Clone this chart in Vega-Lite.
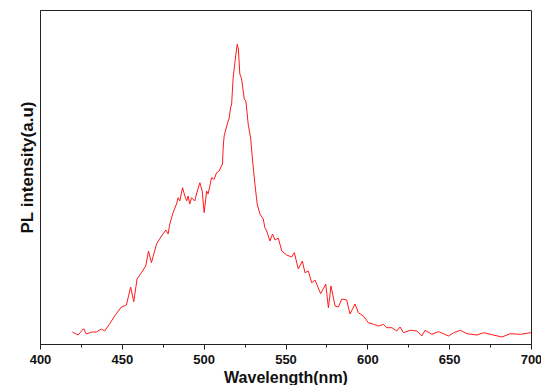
{
  "$schema": "https://vega.github.io/schema/vega-lite/v6.json",
  "width": 491,
  "height": 334,
  "autosize": {"type": "none"},
  "padding": {"left": 40, "top": 10, "right": 10, "bottom": 41},
  "background": "white",
  "config": {
    "view": {"stroke": "#222222", "strokeWidth": 1},
    "font": "Liberation Sans"
  },
  "data": {
    "values": [
      {"wl": 419.8, "v": 12}, {"wl": 423.2, "v": 9}, {"wl": 426.7, "v": 15.3}, {"wl": 428.3, "v": 10},
      {"wl": 431.4, "v": 12}, {"wl": 434.4, "v": 12}, {"wl": 437.5, "v": 15}, {"wl": 439.5, "v": 13},
      {"wl": 442.6, "v": 20.3}, {"wl": 445.6, "v": 28}, {"wl": 449.7, "v": 37}, {"wl": 452.8, "v": 39},
      {"wl": 455.4, "v": 57}, {"wl": 457.3, "v": 42.3}, {"wl": 459.3, "v": 65}, {"wl": 462.0, "v": 71.3},
      {"wl": 464.6, "v": 78}, {"wl": 466.3, "v": 93}, {"wl": 468.1, "v": 81.3}, {"wl": 471.2, "v": 100},
      {"wl": 474.2, "v": 108}, {"wl": 476.9, "v": 114}, {"wl": 478.3, "v": 110}, {"wl": 479.3, "v": 120},
      {"wl": 481.3, "v": 131.3}, {"wl": 483.4, "v": 140}, {"wl": 484.4, "v": 146.3}, {"wl": 485.4, "v": 143},
      {"wl": 487.1, "v": 156.3}, {"wl": 488.5, "v": 148}, {"wl": 489.6, "v": 143}, {"wl": 490.5, "v": 148},
      {"wl": 491.5, "v": 140}, {"wl": 492.6, "v": 146.3}, {"wl": 494.6, "v": 143}, {"wl": 495.6, "v": 150},
      {"wl": 497.7, "v": 161.3}, {"wl": 499.1, "v": 153}, {"wl": 500.3, "v": 131.3}, {"wl": 501.8, "v": 153},
      {"wl": 502.7, "v": 150}, {"wl": 503.8, "v": 158}, {"wl": 504.8, "v": 166.3}, {"wl": 506.4, "v": 164.7},
      {"wl": 507.9, "v": 171.3}, {"wl": 509.5, "v": 173}, {"wl": 510.3, "v": 176}, {"wl": 511.5, "v": 180},
      {"wl": 511.9, "v": 196}, {"wl": 512.5, "v": 208}, {"wl": 513.6, "v": 215}, {"wl": 514.4, "v": 220},
      {"wl": 515.0, "v": 223}, {"wl": 515.6, "v": 226}, {"wl": 516.4, "v": 236}, {"wl": 517.1, "v": 240},
      {"wl": 518.0, "v": 266}, {"wl": 519.7, "v": 290}, {"wl": 520.5, "v": 299.7}, {"wl": 521.2, "v": 295},
      {"wl": 522.1, "v": 270}, {"wl": 523.2, "v": 265}, {"wl": 524.8, "v": 245}, {"wl": 525.8, "v": 243},
      {"wl": 527.2, "v": 220}, {"wl": 528.7, "v": 206}, {"wl": 529.9, "v": 183}, {"wl": 531.3, "v": 160},
      {"wl": 532.7, "v": 140}, {"wl": 534.4, "v": 130}, {"wl": 536.4, "v": 125}, {"wl": 537.4, "v": 116.3},
      {"wl": 538.5, "v": 113}, {"wl": 540.5, "v": 103}, {"wl": 542.1, "v": 110}, {"wl": 543.6, "v": 104},
      {"wl": 545.6, "v": 106}, {"wl": 547.7, "v": 93}, {"wl": 550.7, "v": 89}, {"wl": 553.8, "v": 87},
      {"wl": 555.4, "v": 91.3}, {"wl": 557.8, "v": 75}, {"wl": 560.3, "v": 83}, {"wl": 561.9, "v": 71.3},
      {"wl": 563.9, "v": 73}, {"wl": 566.0, "v": 61.3}, {"wl": 568.0, "v": 64}, {"wl": 571.5, "v": 50.3},
      {"wl": 574.6, "v": 60}, {"wl": 576.2, "v": 36.3}, {"wl": 577.8, "v": 58}, {"wl": 580.3, "v": 38},
      {"wl": 582.3, "v": 37}, {"wl": 584.4, "v": 45}, {"wl": 587.4, "v": 44}, {"wl": 589.4, "v": 30},
      {"wl": 592.5, "v": 40}, {"wl": 594.5, "v": 31.3}, {"wl": 597.6, "v": 28}, {"wl": 600.6, "v": 21.3},
      {"wl": 603.7, "v": 19.7}, {"wl": 606.8, "v": 18}, {"wl": 609.8, "v": 19.7}, {"wl": 611.9, "v": 16.3},
      {"wl": 615.0, "v": 16.3}, {"wl": 618.0, "v": 13}, {"wl": 620.0, "v": 17}, {"wl": 622.1, "v": 11.3},
      {"wl": 626.2, "v": 13.7}, {"wl": 630.3, "v": 13}, {"wl": 633.3, "v": 8}, {"wl": 635.3, "v": 13.7},
      {"wl": 639.4, "v": 9.7}, {"wl": 643.5, "v": 12.3}, {"wl": 646.5, "v": 10.3}, {"wl": 649.6, "v": 8},
      {"wl": 652.7, "v": 11.3}, {"wl": 656.8, "v": 13.7}, {"wl": 660.9, "v": 10.3}, {"wl": 667.0, "v": 9},
      {"wl": 671.0, "v": 11.3}, {"wl": 675.1, "v": 9.7}, {"wl": 682.3, "v": 7}, {"wl": 687.3, "v": 10.3},
      {"wl": 693.5, "v": 9.7}, {"wl": 700.0, "v": 11.3}
    ]
  },
  "mark": {"type": "line", "color": "#ff1a1a", "strokeWidth": 1, "clip": true},
  "encoding": {
    "x": {
      "field": "wl",
      "type": "quantitative",
      "scale": {"domain": [400, 700], "nice": false, "zero": false},
      "axis": {
        "title": "Wavelength(nm)",
        "values": [400, 425, 450, 475, 500, 525, 550, 575, 600, 625, 650, 675, 700],
        "labelExpr": "datum.value % 50 === 0 ? datum.label : ''",
        "tickSize": {"expr": "datum.value % 50 === 0 ? 5 : 3"},
        "grid": false,
        "domainColor": "#222222",
        "tickColor": "#222222",
        "labelFont": "Liberation Sans",
        "labelFontWeight": "bold",
        "labelFontSize": 13,
        "labelColor": "#111111",
        "labelPadding": 4,
        "labelFlush": false,
        "titleFont": "Liberation Sans",
        "titleFontWeight": "bold",
        "titleFontSize": 16,
        "titleColor": "#111111",
        "titlePadding": 3
      }
    },
    "y": {
      "field": "v",
      "type": "quantitative",
      "scale": {"domain": [0, 334], "nice": false},
      "axis": {
        "title": "PL intensity(a.u)",
        "labels": false,
        "ticks": false,
        "grid": false,
        "domainColor": "#222222",
        "titleFont": "Liberation Sans",
        "titleFontWeight": "bold",
        "titleFontSize": 17,
        "titleColor": "#111111",
        "titlePadding": 4,
        "titleY": 157
      }
    }
  }
}
